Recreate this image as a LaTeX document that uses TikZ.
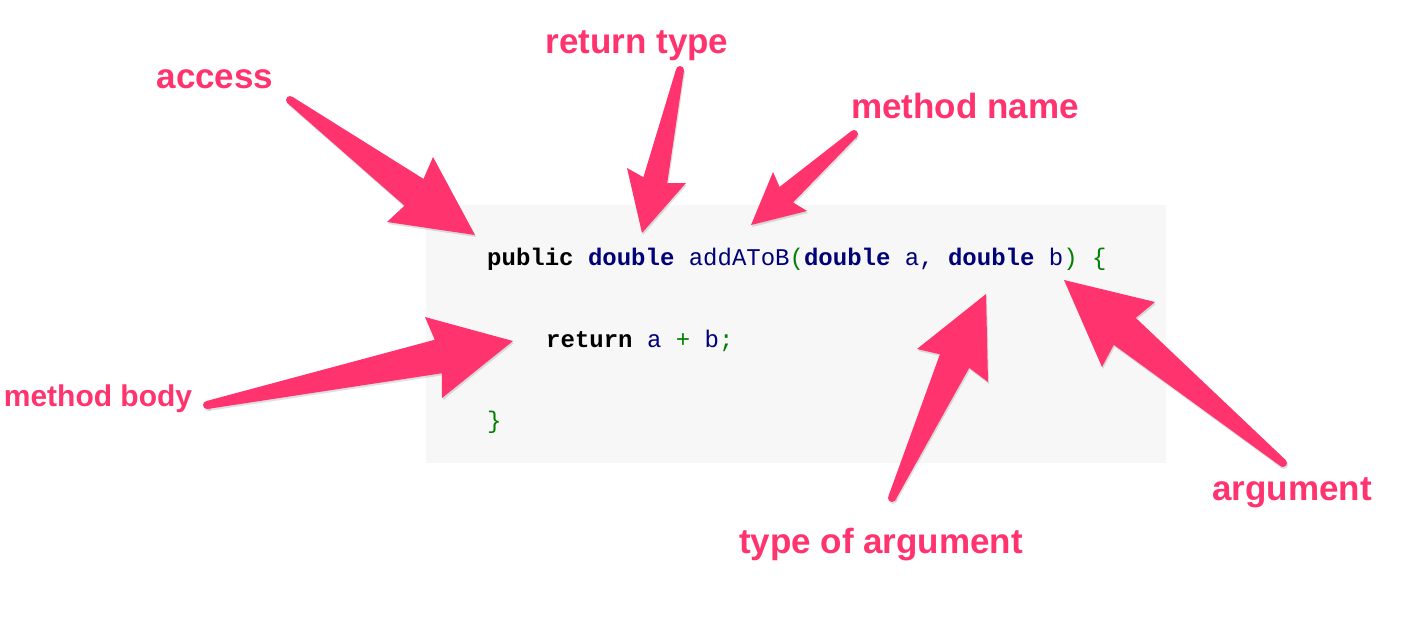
\documentclass[tikz,border=0pt]{standalone}
\usepackage{fontspec}
\usetikzlibrary{calc}
\newfontfamily\lblfont{Liberation Sans}
\newfontfamily\codefont{Liberation Mono}
\definecolor{mypink}{RGB}{255,51,110}
\definecolor{mynavy}{RGB}{0,0,120}
\definecolor{mygreen}{RGB}{0,128,0}
\definecolor{codebg}{RGB}{247,247,247}
\tikzset{
  lbl/.style={font=\lblfont\bfseries\fontsize{35}{40}\selectfont,
    text=mypink, inner sep=0pt, anchor=base},
  smalllbl/.style={lbl, font=\lblfont\bfseries\fontsize{30}{36}\selectfont},
  code/.style={font=\codefont\fontsize{24}{28}\selectfont,
    inner sep=0pt, anchor=base west},
  pointer/.style={fill=mypink},
  pshadow/.style={fill=black, opacity=0.12,
    transform canvas={shift={(1pt,-2pt)}}}
}
% code colouring
\newcommand{\kw}[1]{\textcolor{black}{\bfseries #1}}
\newcommand{\ty}[1]{\textcolor{mynavy}{\bfseries #1}}
\newcommand{\id}[1]{\textcolor{mynavy}{#1}}
\newcommand{\pn}[1]{\textcolor{mygreen}{#1}}
% tapered arrow: tail, tip, left barb, right barb
\newcommand{\pointer}[4]{%
  \coordinate (pl) at ($(#3)!0.28!(#4)$);
  \coordinate (pr) at ($(#3)!0.72!(#4)$);
  \coordinate (nl) at ($(pl)!5pt!(#2)$);
  \coordinate (nr) at ($(pr)!5pt!(#2)$);
  \coordinate (tl) at ($(#1)!4pt!90:(#2)$);
  \coordinate (tr) at ($(#1)!4pt!-90:(#2)$);
  \foreach \sty in {pshadow,pointer}{
    \fill[\sty] (tl) -- (nl) -- (#3) -- (#2) -- (#4) -- (nr) -- (tr) -- cycle;
    \fill[\sty] (#1) circle[radius=4pt];
  }
}

\begin{document}
\begin{tikzpicture}[x=1pt, y=-1pt]
  \useasboundingbox (0,0) rectangle (1418,616);
  \fill[white] (0,0) rectangle (1418,616);
  % code listing
  \fill[codebg] (426,205) rectangle (1166,463);
  \node[code] (sig) at (487,265) {\kw{public} \ty{double} \id{addAToB}\pn{(}\ty{double} \id{a,} \ty{double} \id{b}\pn{)} \pn{\{}};
  \node[code] (ret) at (546,347) {\kw{return} \id{a} \pn{+} \id{b}\pn{;}};
  \node[code] (close) at (487,428) {\pn{\}}};
  % arrow ends
  \coordinate (accTail) at (290,100);
  \coordinate (accTip) at (475,235);
  \coordinate (rtTail) at (680,70);
  \coordinate (rtTip) at (642,233);
  \coordinate (mnTail) at (854,134);
  \coordinate (mnTip) at (751,225);
  \coordinate (mbTail) at (207,405);
  \coordinate (mbTip) at (513,341);
  \coordinate (taTail) at (892,498);
  \coordinate (taTip) at (986,294);
  \coordinate (argTail) at (1283,463);
  \coordinate (argTip) at (1064,280);
  % arrows
  \pointer{accTail}{accTip}{433,157}{387,222}
  \pointer{rtTail}{rtTip}{686,183}{627,168}
  \pointer{mnTail}{mnTip}{807,211}{773,172}
  \pointer{mbTail}{mbTip}{425,317}{442,398}
  \pointer{taTail}{taTip}{917,349}{988,382}
  \pointer{argTail}{argTip}{1102,367}{1155,302}
  % labels
  \node[lbl] (access) at (215,88) {access};
  \node[lbl] (rettype) at (637,53) {return type};
  \node[lbl] (mname) at (965,118) {method name};
  \node[smalllbl] (mbody) at (98,406) {method body};
  \node[lbl] (argtype) at (881,553) {type of argument};
  \node[lbl] (arg) at (1292,500) {argument};
\end{tikzpicture}
\end{document}
